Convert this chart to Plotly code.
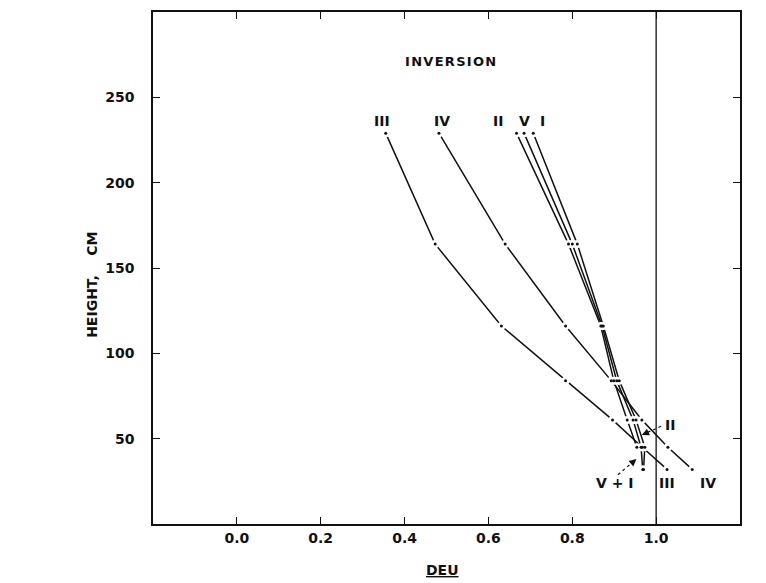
import plotly.graph_objects as go

# Heights (cm) at which DEU was evaluated
HEIGHT = [229, 164, 116, 84, 61, 45, 32]

# DEU values per case
DEU_III = [0.355, 0.473, 0.631, 0.784, 0.896, 0.967, 1.026]
DEU_IV = [0.482, 0.640, 0.784, 0.893, 0.966, 1.028, 1.086]
DEU_II = [0.667, 0.791, 0.868, 0.899, 0.931, 0.954]
DEU_V = [0.685, 0.800, 0.871, 0.906, 0.945, 0.964, 0.968]
DEU_I = [0.707, 0.812, 0.874, 0.912, 0.952, 0.973, 0.970]

SERIES = [("III", DEU_III), ("IV", DEU_IV), ("II", DEU_II), ("V", DEU_V), ("I", DEU_I)]

X_TICKS = [0.0, 0.2, 0.4, 0.6, 0.8, 1.0]
X_TICK_TEXT = ["0.0", "0.2", "0.4", "0.6", "0.8", "1.0"]
Y_TICKS = [50, 100, 150, 200, 250]

FONT = "DejaVu Sans"
INK = "#111"

fig = go.Figure()

# lines
for name, xs in SERIES:
    fig.add_trace(go.Scatter(x=xs, y=HEIGHT[:len(xs)], mode="lines",
                             line=dict(color=INK, width=1.5),
                             hoverinfo="skip", showlegend=False))
# white gaps around data points
for name, xs in SERIES:
    fig.add_trace(go.Scatter(x=xs, y=HEIGHT[:len(xs)], mode="markers",
                             marker=dict(color="white", size=8, line=dict(width=0)),
                             hoverinfo="skip", showlegend=False))
# data dots
for name, xs in SERIES:
    fig.add_trace(go.Scatter(x=xs, y=HEIGHT[:len(xs)], mode="markers",
                             marker=dict(color=INK, size=3, line=dict(width=0)),
                             name=name, showlegend=False))

# vertical reference line at DEU = 1.0
fig.add_shape(type="line", x0=1.0, x1=1.0, y0=0, y1=300, xref="x", yref="y",
              line=dict(color=INK, width=1.3))

lab_font = dict(family=FONT, size=14, color=INK, weight="bold")

# top labels
top_labels = [("III", 0.345), ("IV", 0.49), ("II", 0.624), ("V", 0.685), ("I", 0.729)]
for t, x in top_labels:
    fig.add_annotation(x=x, y=236, text=t, showarrow=False, font=lab_font,
                       xref="x", yref="y", xanchor="center", yanchor="middle")

# bottom labels
for t, x, y in [("V + I", 0.903, 24), ("III", 1.026, 24), ("IV", 1.123, 24), ("II", 1.034, 58)]:
    fig.add_annotation(x=x, y=y, text=t, showarrow=False, font=lab_font,
                       xanchor="center", yanchor="middle")

# dotted pointer lines
fig.add_shape(type="line", x0=1.012, y0=57.3, x1=0.968, y1=52.4,
              line=dict(color=INK, width=1.2, dash="dot"))
fig.add_shape(type="line", x0=0.909, y0=28.9, x1=0.951, y1=37.7,
              line=dict(color=INK, width=1.2, dash="dot"))
fig.add_annotation(x=0.966, y=52.2, ax=5, ay=-2.3, text="", showarrow=True,
                   arrowhead=2, arrowsize=1.2, arrowwidth=1.2, arrowcolor=INK)
fig.add_annotation(x=0.953, y=38.1, ax=-4, ay=3.4, text="", showarrow=True,
                   arrowhead=2, arrowsize=1.2, arrowwidth=1.2, arrowcolor=INK)

# title inside plot
fig.add_annotation(x=0.51, y=271, text="\u200a".join("INVERSION"),
                   showarrow=False, xanchor="center", yanchor="middle",
                   font=dict(family=FONT, size=13, color=INK, weight="bold"))

# axis titles
fig.add_annotation(xref="paper", yref="paper", x=-0.104, y=0.467,
                   text="HEIGHT,\u00a0\u00a0\u00a0\u00a0CM",
                   textangle=-90, showarrow=False, xanchor="center", yanchor="middle",
                   font=dict(family=FONT, size=14, color=INK, weight="bold"))
fig.add_annotation(xref="paper", yref="paper", x=0.494, y=-0.09,
                   text="<span style='text-decoration:underline'>DEU</span>",
                   showarrow=False, xanchor="center", yanchor="middle",
                   font=dict(family=FONT, size=14, color=INK, weight="bold"))

fig.update_xaxes(range=[-0.2, 1.2], tickvals=X_TICKS, ticktext=X_TICK_TEXT,
                 ticks="inside", ticklen=7, tickwidth=1.3, tickcolor=INK,
                 showline=True, linewidth=1.6, linecolor=INK, mirror="ticks",
                 showgrid=False, zeroline=False,
                 tickfont=dict(family=FONT, size=14, color=INK, weight="bold"))
fig.update_yaxes(range=[0, 300], tickvals=Y_TICKS,
                 ticks="inside", ticklen=7, tickwidth=1.3, tickcolor=INK,
                 showline=True, linewidth=1.6, linecolor=INK, mirror="ticks",
                 showgrid=False, zeroline=False, ticklabelstandoff=14,
                 tickfont=dict(family=FONT, size=14, color=INK, weight="bold"))

fig.update_layout(width=766, height=583, plot_bgcolor="white", paper_bgcolor="white",
                  margin=dict(l=145, r=34, t=2, b=67), showlegend=False)

fig.write_html("out.html")
